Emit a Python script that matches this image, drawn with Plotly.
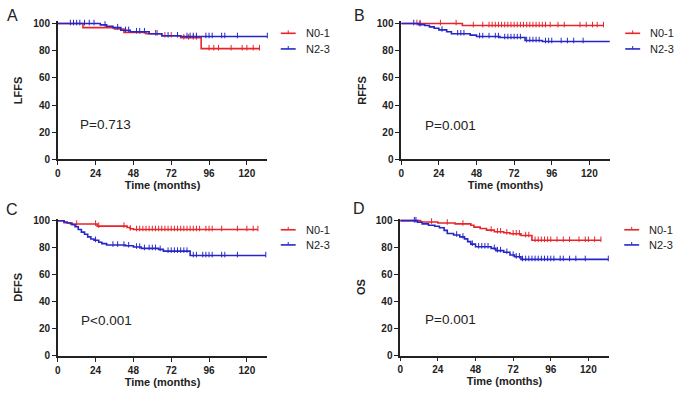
import plotly.graph_objects as go

W, H = 675, 399
RED = "#e8242a"
BLUE = "#2626c8"
FONT = "Liberation Sans, Arial, sans-serif"

# ---------------- data ----------------
# Panel A: LFFS
a_n01_t = [0, 16, 36, 42, 56, 66, 78, 91]
a_n01_s = [100, 97, 96, 93.5, 92.5, 91, 89.5, 81.5]
a_n01_c = [62, 68, 72, 80, 83, 86, 88, 96, 99, 102, 110, 117, 120, 124, 128]
a_n23_t = [0, 27, 31, 35, 40, 46, 58, 66, 78]
a_n23_s = [100, 99, 98, 97, 95, 94, 92.5, 91, 90.5]
a_n23_c = [8, 10, 12, 14, 17, 20, 23, 30, 38, 43, 45, 50, 52, 55, 63, 70, 76,
           82, 84, 86, 88, 94, 96, 98, 104, 106, 114, 133]

# Panel B: RFFS
b_n01_t = [0, 39]
b_n01_s = [100, 98.5]
b_n01_c = [10, 12, 25, 35, 46, 52, 56, 58, 60, 62, 64, 66, 68, 70, 72, 74, 76,
           78, 80, 82, 84, 86, 88, 90, 92, 95, 100, 104, 114, 118, 122, 125, 129]
b_n23_t = [0, 11, 15, 18, 21, 24, 29, 32, 44, 48, 63, 79, 90]
b_n23_s = [100, 99.2, 98.5, 97.5, 96.5, 95.3, 94, 92.5, 91.5, 90.4, 89.7, 87.5, 86.8]
b_n23_c = [8, 12, 26, 36, 38, 40, 50, 52, 56, 60, 62, 66, 68, 70, 72, 74, 76,
           80, 82, 84, 86, 88, 92, 94, 96, 102, 106, 110, 116, 134]

# Panel C: DFFS
c_n01_t = [0, 4, 8, 25, 44, 46, 48]
c_n01_s = [100, 98.5, 97.5, 96, 95, 94, 93.5]
c_n01_c = [12, 24, 26, 42, 46, 50, 52, 54, 56, 58, 60, 62, 64, 66, 68, 70, 72,
           74, 76, 78, 80, 82, 84, 86, 88, 90, 94, 96, 98, 104, 114, 120, 124, 127]
c_n23_t = [0, 4, 6, 9, 11, 13, 15, 17, 19, 21, 23, 26, 28, 31, 43, 48, 53, 64, 67, 84]
c_n23_s = [100, 99, 98.3, 97, 95.5, 93.5, 91.5, 90, 88, 86.5, 85.5, 84, 83, 82,
           81.5, 80.5, 79.5, 78.8, 77.5, 74.2]
c_n23_c = [24, 35, 38, 42, 45, 50, 52, 55, 58, 60, 62, 65, 70, 72, 74, 76, 78,
           80, 82, 86, 88, 92, 94, 96, 98, 104, 106, 114, 132]

# Panel D: OS
d_n01_t = [0, 13, 24, 35, 45, 47, 51, 55, 60, 66, 70, 77, 84]
d_n01_s = [100, 99, 98.3, 97.6, 96.6, 95.2, 94.2, 93, 91.8, 91, 90.3, 89, 85.5]
d_n01_c = [20, 30, 40, 58, 62, 64, 68, 72, 74, 76, 80, 82, 86, 88, 90, 92, 94,
           96, 100, 104, 108, 114, 118, 120, 124, 128]
d_n23_t = [0, 11, 14, 18, 22, 25, 28, 30, 34, 38, 41, 43, 45, 48, 58, 61, 66, 70, 73, 77]
d_n23_s = [100, 98.8, 97.6, 96.6, 95.9, 94.7, 92.8, 90.5, 89.4, 88, 86.5, 84.5,
           82.6, 80.7, 79.5, 77.8, 76.6, 74.5, 73.2, 71.3]
d_n23_c = [9, 10, 36, 40, 46, 50, 52, 54, 56, 60, 62, 64, 68, 72, 74, 76, 78, 80,
           82, 84, 86, 88, 90, 92, 94, 96, 98, 102, 104, 108, 112, 118, 132.7]

panel_letters = ["A", "B", "C", "D"]
y_titles = ["LFFS", "RFFS", "DFFS", "OS"]
p_values = ["P=0.713", "P=0.001", "P<0.001", "P=0.001"]
group_names = ["N0-1", "N2-3"]
x_ticks = [0, 24, 48, 72, 96, 120]
y_ticks = [0, 20, 40, 60, 80, 100]

panels = [
    ((a_n01_t, a_n01_s, a_n01_c), (a_n23_t, a_n23_s, a_n23_c)),
    ((b_n01_t, b_n01_s, b_n01_c), (b_n23_t, b_n23_s, b_n23_c)),
    ((c_n01_t, c_n01_s, c_n01_c), (c_n23_t, c_n23_s, c_n23_c)),
    ((d_n01_t, d_n01_s, d_n01_c), (d_n23_t, d_n23_s, d_n23_c)),
]

# ---------------- layout geometry (pixels) ----------------
XMAX = 133
YMAX = 101.5
# (left px, px per month, y px of 0, y px of 100)
geom = [
    (55, 1.583, 160, 21),
    (400, 1.575, 160, 21),
    (55, 1.583, 361, 222.7),
    (399, 1.575, 360.7, 222.7),
]
p_pos = [(13, 26), (13.8, 25.2), (13.7, 26), (14.4, 27)]
legend_px = [(279, 31, 47), (625, 31, 47), (279, 232, 247.5), (624, 232, 247.5)]
letter_px = [(10, 13), (358, 13), (9, 211), (358, 210)]


def surv_at(ts, ss, t):
    v = ss[0]
    for ti, si in zip(ts, ss):
        if ti <= t:
            v = si
    return v


fig = go.Figure()
layout = {}
annotations = []
shapes = []
colors = [RED, BLUE]

for i, (groups, g) in enumerate(zip(panels, geom)):
    left, ppm, y0, y100 = g
    ppu = (y0 - y100) / 100.0
    right = left + XMAX * ppm
    top = y0 - YMAX * ppu
    sfx = "" if i == 0 else str(i + 1)
    xa, ya = "x" + sfx, "y" + sfx
    for gi, (ts, ss, cs) in enumerate(groups):
        tend = max(max(cs), ts[-1])
        xs = list(ts) + [tend]
        ys = list(ss) + [ss[-1]]
        fig.add_trace(go.Scatter(
            x=xs, y=ys, mode="lines", line=dict(color=colors[gi], width=1.6, shape="hv"),
            name=group_names[gi], showlegend=False, xaxis=xa, yaxis=ya,
            hoverinfo="skip"))
        fig.add_trace(go.Scatter(
            x=cs, y=[surv_at(ts, ss, c) + 0.7 for c in cs], mode="markers",
            marker=dict(symbol="line-ns", size=4, line=dict(color=colors[gi], width=1)),
            name=group_names[gi] + " censored", showlegend=False,
            xaxis=xa, yaxis=ya, cliponaxis=False, hoverinfo="skip"))
    axis_common = dict(
        showline=True, linecolor="#222", linewidth=1.5, ticks="outside",
        ticklen=4, tickwidth=1.3, tickcolor="#222", showgrid=False, zeroline=False,
        tickfont=dict(family=FONT, size=10, color="#222", weight="bold"),
    )
    layout["xaxis" + sfx] = dict(
        axis_common, domain=[left / W, right / W], range=[0, XMAX],
        tickvals=x_ticks, anchor=ya,
        title=dict(text="Time (months)", standoff=2,
                   font=dict(family=FONT, size=11, color="#222", weight="bold")))
    layout["yaxis" + sfx] = dict(
        axis_common, domain=[1 - y0 / H, 1 - top / H], range=[0, YMAX],
        tickvals=y_ticks, anchor=xa,
        title=dict(text=y_titles[i], standoff=8,
                   font=dict(family=FONT, size=11, color="#222", weight="bold")))
    # P value
    annotations.append(dict(
        x=p_pos[i][0], y=p_pos[i][1], xref=xa, yref=ya, text=p_values[i],
        showarrow=False, xanchor="left", yanchor="middle",
        font=dict(family=FONT, size=13.5, color="#222")))
    # panel letter
    lx, ly = letter_px[i]
    annotations.append(dict(
        x=lx / W, y=1 - ly / H, xref="paper", yref="paper", text=panel_letters[i],
        showarrow=False, xanchor="center", yanchor="middle",
        font=dict(family=FONT, size=16, color="#222")))
    # legend
    lgx, ly1, ly2 = legend_px[i]
    for gi, lyy in enumerate([ly1, ly2]):
        yp = 1 - lyy / H
        shapes.append(dict(type="line", xref="paper", yref="paper",
                           x0=lgx / W, x1=(lgx + 15) / W, y0=yp, y1=yp,
                           line=dict(color=colors[gi], width=1.6)))
        shapes.append(dict(type="line", xref="paper", yref="paper",
                           x0=(lgx + 7.5) / W, x1=(lgx + 7.5) / W,
                           y0=yp, y1=yp + 3 / H,
                           line=dict(color=colors[gi], width=1)))
        annotations.append(dict(
            x=(lgx + 23) / W, y=yp, xref="paper", yref="paper",
            text=group_names[gi], showarrow=False, xanchor="left", yanchor="middle",
            font=dict(family=FONT, size=11, color="#222")))

fig.update_layout(
    width=W, height=H, margin=dict(l=0, r=0, t=0, b=0),
    paper_bgcolor="white", plot_bgcolor="white",
    annotations=annotations, shapes=shapes, showlegend=False,
    **layout)

fig.write_html("out.html", config={"displayModeBar": False},
               post_script="document.body.style.margin='0';document.body.style.overflow='hidden';")
